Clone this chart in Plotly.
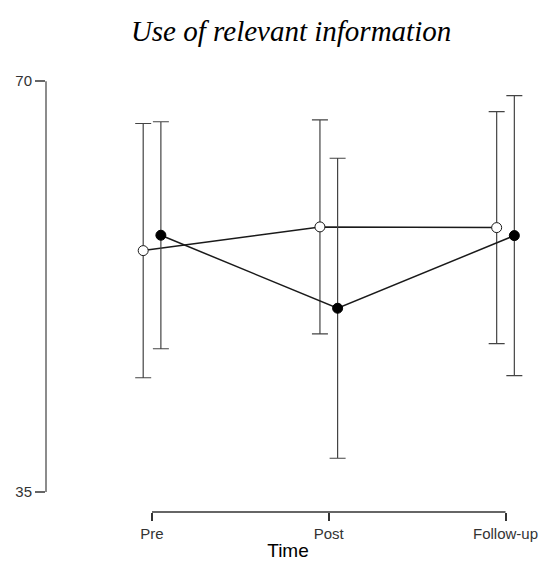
import plotly.graph_objects as go

categories = ["Pre", "Post", "Follow-up"]
x_pos = [0, 1, 2]
open_means = [55.57, 57.59, 57.53]
open_err = [10.83, 9.12, 9.88]
filled_means = [56.88, 50.66, 56.85]
filled_err = [9.67, 12.78, 11.93]
offset = 0.05
y_ticks = [35, 70]

fig = go.Figure()

fig.add_trace(go.Scatter(
    x=[p - offset for p in x_pos], y=open_means,
    mode="lines+markers",
    line=dict(color="#1a1a1a", width=1.5),
    marker=dict(symbol="circle", size=10, color="white", line=dict(color="#1a1a1a", width=1)),
    error_y=dict(type="data", array=open_err, visible=True, color="#444444", thickness=1.2, width=8),
    showlegend=False,
))
fig.add_trace(go.Scatter(
    x=[p + offset for p in x_pos], y=filled_means,
    mode="lines+markers",
    line=dict(color="#1a1a1a", width=1.5),
    marker=dict(symbol="circle", size=10, color="black", line=dict(color="black", width=1)),
    error_y=dict(type="data", array=filled_err, visible=True, color="#444444", thickness=1.2, width=8),
    showlegend=False,
))

# axis lines (partial, R-base style)
fig.add_shape(type="line", xref="paper", yref="y", x0=0, x1=0, y0=35, y1=70,
              line=dict(color="#666666", width=1.5))
fig.add_shape(type="line", xref="x", yref="paper", x0=0, x1=2, y0=0, y1=0,
              line=dict(color="#333333", width=1.5))

fig.update_layout(
    width=539, height=561,
    margin=dict(l=46, r=9, t=60, b=49, autoexpand=False),
    plot_bgcolor="white", paper_bgcolor="white",
    title=dict(text="<i>Use of relevant information</i>", x=0.54, xanchor="center",
               y=0.945, yanchor="middle",
               font=dict(family="Liberation Serif, Times New Roman, serif", size=29, color="black")),
    xaxis=dict(range=[-0.6, 2.1386], tickvals=x_pos, ticktext=categories,
               showgrid=False, zeroline=False, showline=False, automargin=False,
               ticks="outside", ticklen=8, tickwidth=1.5, tickcolor="#333333",
               tickfont=dict(family="Liberation Sans, Arial, sans-serif", size=15, color="#333333"),
               title=dict(text="Time", standoff=9,
                          font=dict(family="Liberation Sans, Arial, sans-serif", size=19, color="black"))),
    yaxis=dict(range=[33.30, 71.81], tickvals=y_ticks,
               showgrid=False, zeroline=False, showline=False, automargin=False,
               ticks="outside", ticklen=10, tickwidth=1.5, tickcolor="#666666",
               tickfont=dict(family="Liberation Sans, Arial, sans-serif", size=15, color="#333333")),
)

post = (
    "var s=document.createElement('style');"
    "s.textContent='html,body{margin:0;padding:0;overflow:hidden;width:539px;height:561px;}';"
    "document.head.appendChild(s);"
)
fig.write_html("out.html", config={"displayModeBar": False}, post_script=post)
